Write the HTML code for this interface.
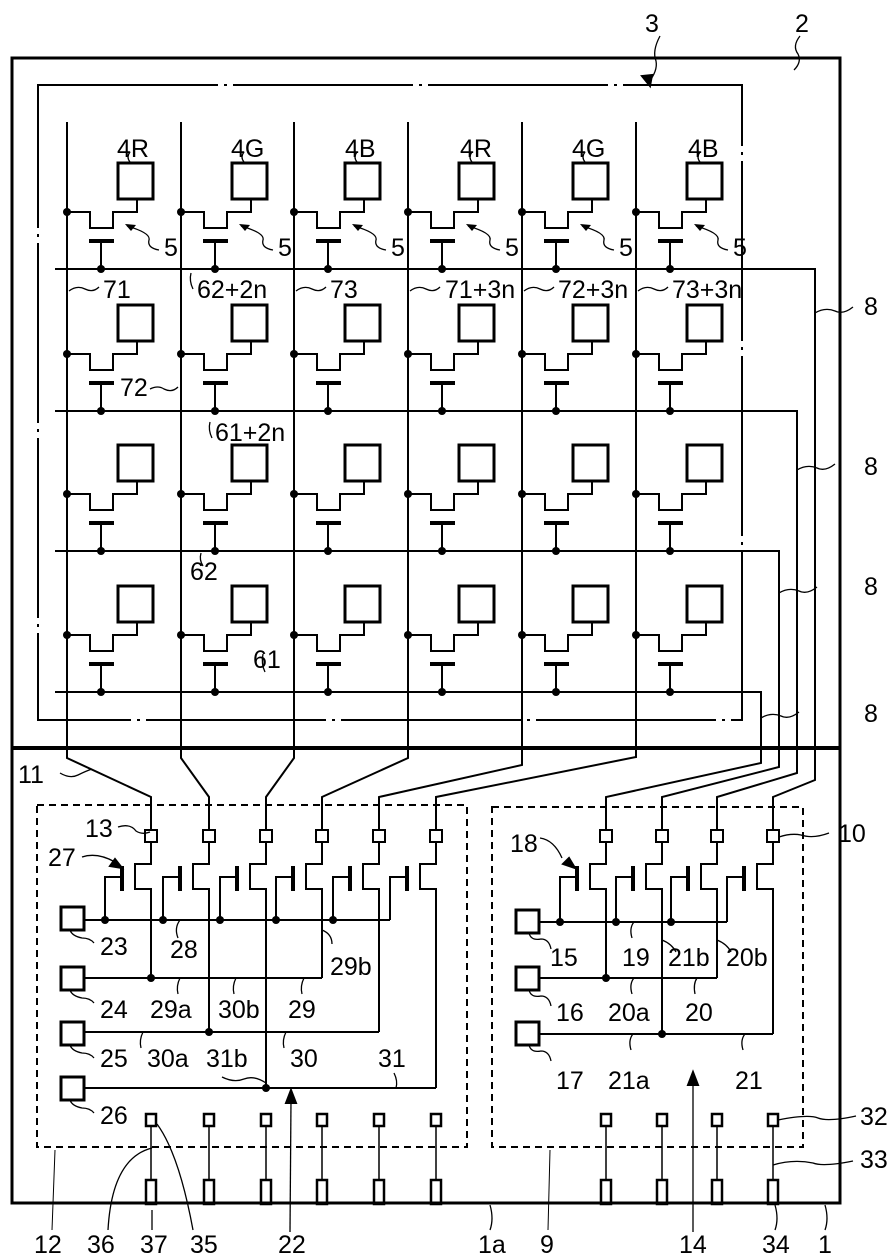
<!DOCTYPE html>
<html><head><meta charset="utf-8"><style>
html,body{margin:0;padding:0;background:#fff;}
svg{display:block;}
text{font-family:"Liberation Sans",sans-serif;font-size:25px;fill:#000;}
</style></head><body>
<svg id="s" width="892" height="1257" viewBox="0 0 892 1257" xmlns="http://www.w3.org/2000/svg">
<g id="g" fill="none" stroke="#000" stroke-width="2"></g>
<g id="t">
<text x="645" y="32">3</text><text x="795" y="32">2</text>
<text x="117" y="157">4R</text><text x="231" y="157">4G</text><text x="345" y="157">4B</text>
<text x="460" y="157">4R</text><text x="572" y="157">4G</text><text x="688" y="157">4B</text>
<text x="197" y="298">62+2n</text><text x="103" y="298">71</text><text x="330" y="298">73</text>
<text x="445" y="298">71+3n</text><text x="558" y="298">72+3n</text><text x="672" y="298">73+3n</text>
<text x="120" y="396">72</text><text x="215" y="441">61+2n</text>
<text x="190" y="580">62</text><text x="253" y="668">61</text>
<text x="864" y="315">8</text><text x="864" y="475">8</text><text x="864" y="595">8</text><text x="864" y="722">8</text>
<text x="18" y="783">11</text><text x="85" y="837">13</text><text x="48" y="866">27</text>
<text x="100" y="955">23</text><text x="170" y="958">28</text><text x="330" y="975">29b</text>
<text x="100" y="1018">24</text><text x="150" y="1018">29a</text><text x="218" y="1018">30b</text><text x="288" y="1018">29</text>
<text x="100" y="1067">25</text><text x="147" y="1067">30a</text><text x="206" y="1067">31b</text><text x="290" y="1067">30</text><text x="378" y="1067">31</text>
<text x="100" y="1124">26</text>
<text x="510" y="852">18</text><text x="838" y="842">10</text>
<text x="550" y="966">15</text><text x="622" y="966">19</text><text x="668" y="966">21b</text><text x="726" y="966">20b</text>
<text x="556" y="1021">16</text><text x="608" y="1021">20a</text><text x="685" y="1021">20</text>
<text x="556" y="1089">17</text><text x="608" y="1089">21a</text><text x="735" y="1089">21</text>
<text x="860" y="1125">32</text><text x="860" y="1168">33</text>
<text x="34" y="1253">12</text><text x="87" y="1253">36</text><text x="140" y="1253">37</text><text x="190" y="1253">35</text>
<text x="278" y="1253">22</text><text x="478" y="1253">1a</text><text x="540" y="1253">9</text><text x="679" y="1253">14</text>
<text x="762" y="1253">34</text><text x="818" y="1253">1</text>
</g>
</svg>
<script>
var g=document.getElementById('g'),h='';
function L(p,w,extra){h+='<polyline points="'+p+'"'+(w?' stroke-width="'+w+'"':'')+(extra||'')+'/>';}
function R(x,y,w,hh,sw,extra){h+='<rect x="'+x+'" y="'+y+'" width="'+w+'" height="'+hh+'"'+(sw?' stroke-width="'+sw+'"':'')+(extra||'')+'/>';}
function D(x,y){h+='<circle cx="'+x+'" cy="'+y+'" r="4" fill="#000" stroke="none"/>';}
function C(d,w){h+='<path d="'+d+'" stroke-width="'+(w||1.3)+'"/>';}
R(12,58,828,1145,3);
L('12,748 840,748',4);
R(38,85,704,635,2,' stroke-dasharray="180 6 3 6"');
R(37,805,430,342,2,' stroke-dasharray="7 5"');
R(492,807,311,340,2,' stroke-dasharray="7 5"');
var cols=[67,181,294,408,522,636],rows=[269,411,551,692],ends=[815,797,779,761];
var cb=[[758,151],[758,209],[758,266],[758,322],[765,379],[757,436]];
cols.forEach(function(c,i){L(c+',122 '+c+','+cb[i][0]+' '+cb[i][1]+',797 '+cb[i][1]+',830');});
var pads10=[773,717,662,606],rb=[780,773,767,763];
rows.forEach(function(r,j){L('55,'+r+' '+ends[j]+','+r+' '+ends[j]+','+rb[j]+' '+pads10[j]+',797 '+pads10[j]+',831');});
rows.forEach(function(r){cols.forEach(function(c){
 R(c+51,r-106,35,36,3);
 L(c+','+(r-57)+' '+(c+23)+','+(r-57)+' '+(c+23)+','+(r-41)+' '+(c+46)+','+(r-41)+' '+(c+46)+','+(r-57)+' '+(c+70)+','+(r-57)+' '+(c+70)+','+(r-70));
 D(c,r-57);
 L((c+22)+','+(r-28)+' '+(c+47)+','+(r-28),4);
 L((c+34)+','+(r-28)+' '+(c+34)+','+r);
 D(c+34,r);
});});
cols.forEach(function(c){C('M'+(c+92)+',250 q-12,-2 -10,-10 q2,-7 -22,-14',1.3);h+='<path d="M'+(c+58)+',224 l11,1 l-5,6z" fill="#000" stroke="none"/>';h+='<text x="'+(c+97)+'" y="256" font-size="25" stroke="none" fill="#000" style="font-family:Liberation Sans,sans-serif">5</text>';});
function tr(p,yb,busY,dot,srcY,srcDot){
 R(p-6,830,12,12,2);
 L(p+',842 '+p+',864 '+(p-16)+',864 '+(p-16)+',889 '+p+',889 '+p+','+srcY);
 if(srcDot)D(p,srcY);
 L((p-29)+',866 '+(p-29)+',891',4);
 L((p-29)+',877 '+(p-46)+',877 '+(p-46)+','+busY);
 if(dot)D(p-46,busY);
}
var lp=[151,209,266,322,379,436],ls=[978,1032,1088,978,1032,1088];
lp.forEach(function(p,i){tr(p,0,920,i<5,ls[i],i<3);});
L('84,920 390,920');L('84,978 322,978');L('84,1032 379,1032');L('84,1088 436,1088');
R(61,907,23,23,3);R(61,967,23,23,3);R(61,1022,23,23,3);R(61,1077,23,23,3);
var rp=[606,662,717,773],rs=[978,1034,978,1034];
rp.forEach(function(p,i){tr(p,0,922,i<3,rs[i],i<2);});
L('539,922 727,922');L('539,978 717,978');L('539,1034 773,1034');
R(516,910,23,23,3);R(516,967,23,23,3);R(516,1022,23,23,3);
lp.concat(rp).forEach(function(p){R(p-5,1114,10,12,2.5);L(p+',1126 '+p+',1180',1.5);R(p-5,1180,10,24,2.5);});
C('M660,36 q-8,15 -4,25 q2,10 -8,22');h+='<path d="M650,86 l-8,-10 l10,-1z" fill="#000"/>';
C('M800,36 q-8,10 -2,18 q4,8 -4,16');
C('M130,162 q-4,-5 0,-10');C('M244,162 q-4,-5 0,-10');C('M357,162 q-4,-5 0,-10');C('M472,162 q-4,-5 0,-10');C('M585,162 q-4,-5 0,-10');C('M700,162 q-4,-5 0,-10');
C('M69,291 q8,-6 16,-2 q8,4 14,-2');C('M296,291 q8,-6 16,-2 q8,4 14,-2');C('M410,291 q8,-6 16,-2 q8,4 14,-2');C('M524,291 q8,-6 16,-2 q8,4 14,-2');C('M638,291 q8,-6 16,-2 q8,4 14,-2');
C('M193,289 q-4,-8 -2,-16');C('M150,389 q8,-4 14,0 q8,4 14,-2');C('M212,438 q-4,-8 -2,-16');C('M203,566 q-4,-6 -2,-13');C('M265,672 q-4,-8 -2,-18');
C('M815,313 q10,-6 20,-2 q8,4 18,-4');C('M797,470 q10,-6 20,-2 q8,4 18,-4');C('M779,593 q10,-6 20,-2 q8,4 18,-4');C('M761,718 q10,-6 20,-2 q8,4 18,-4');
C('M60,773 q10,6 18,2 q8,-4 14,-6');C('M118,827 q12,-4 18,4 q6,4 14,1');
C('M82,857 q15,-5 33,5');h+='<path d="M122,868 l-12,-2 l5,-7z" fill="#000"/>';
C('M70,930 q2,6 12,8 q8,0 12,5');C('M70,990 q2,6 12,8 q8,0 12,5');C('M70,1045 q2,6 12,8 q8,0 12,5');C('M70,1100 q2,6 12,8 q8,0 12,5');
C('M180,920 q-6,8 -2,18');C('M322,930 q10,4 10,14');C('M180,978 q-4,8 -2,16');C('M236,978 q-4,8 -2,16');C('M304,978 q-4,8 -2,16');
C('M143,1032 q-4,8 -2,16');C('M286,1032 q-4,8 -2,16');C('M266,1083 q-12,-8 -22,-4 q-10,4 -22,-2');C('M394,1073 q4,8 2,15');
C('M290,1232 L291,1100');h+='<path d="M291,1090 l-5,13 l10,0z" fill="#000"/>';
C('M693,1232 L693,1082');h+='<path d="M693,1072 l-5,13 l10,0z" fill="#000"/>';
C('M540,838 q14,2 22,20');h+='<path d="M575,868 l-12,-4 l6,-6z" fill="#000"/>';
C('M779,837 q12,-4 22,-2 q12,4 28,-2');
C('M529,933 q2,8 12,6 q8,0 10,10');C('M529,990 q2,8 12,6 q8,0 10,10');C('M529,1045 q2,8 12,6 q8,0 10,10');
C('M634,922 q-5,6 -2,16');C('M662,940 q10,4 14,12');C('M717,940 q10,4 14,12');C('M634,978 q-5,6 -2,16');C('M697,978 q-4,6 -2,16');C('M633,1034 q-5,6 -2,16');C('M745,1034 q-5,6 -2,16');
C('M778,1120 q30,-6 40,-2 q10,4 38,-2');C('M773,1165 q20,-6 40,-2 q10,4 40,-2');
C('M55,1150 L52,1230',1);C('M550,1150 L548,1230',1);
C('M152,1148 q-40,10 -44,82');C('M157,1124 q22,30 36,106');C('M152,1210 L152,1230');C('M490,1205 q4,14 0,25');C('M775,1205 q4,14 0,25');C('M825,1205 q4,14 0,25');
g.innerHTML=h;
</script>
</body></html>
